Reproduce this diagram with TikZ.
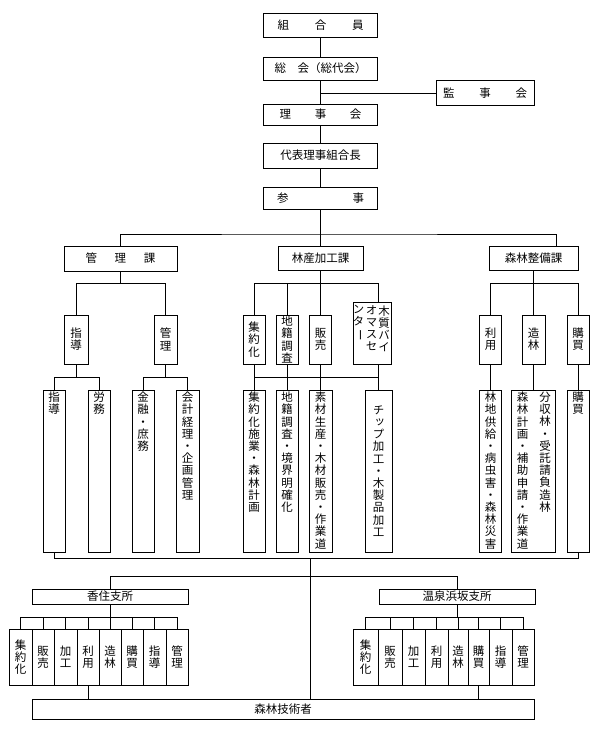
\documentclass[tikz,border=0pt]{standalone}
\usepackage{fontspec}
\usepackage{graphicx}
\newfontfamily\jp{Noto Sans CJK JP}
\newfontfamily\jpv[RawFeature=+vert]{Noto Sans CJK JP}
\newcommand\myhfont{\jp\fontsize{11.5}{12}\selectfont}
\newcommand\myvfont{\jpv\fontsize{11.5}{12.2}\selectfont}
\newcommand\vbar{{\jp\rotatebox[origin=c]{-90}{ー}}}
\ExplSyntaxOn
\tl_new:N \l_my_vt_tl
\seq_new:N \l_my_vt_seq
\NewDocumentCommand\vtext{m}
 {
  \tl_set:Nx \l_my_vt_tl {#1}
  \seq_clear:N \l_my_vt_seq
  \tl_map_inline:Nn \l_my_vt_tl { \seq_put_right:Nn \l_my_vt_seq {##1} }
  \seq_use:Nn \l_my_vt_seq {\\}
 }
\ExplSyntaxOff
\tikzset{
  sz/.style 2 args={minimum width=#1pt, minimum height=#2pt},
  hb/.style={draw, rectangle, inner sep=0pt, font=\myhfont},
  vb/.style={draw, rectangle, inner sep=0pt, align=center, font=\myvfont},
  vl/.style={inner sep=0pt, align=center, font=\myvfont, anchor=north},
}
\begin{document}
\begin{tikzpicture}[x=1pt,y=-1pt,line width=0.8pt]
\useasboundingbox (0,0) rectangle (600,739);
% ---- top chain
\node[hb, sz={114}{24}] (kumiai) at (320.5,25) {\makebox[86pt][s]{組\hfill 合\hfill 員}};
\node[hb, sz={114}{23}] (soukai) at (320.5,68.5) {総　会（総代会）};
\node[hb, sz={98}{25}] (kanji) at (485,93) {\makebox[84pt][s]{監\hfill 事\hfill 会}};
\node[hb, sz={114}{21}] (riji) at (320.5,114.5) {\makebox[82pt][s]{理\hfill 事\hfill 会}};
\node[hb, sz={114}{25}] (daihyo) at (320.5,155.5) {代表理事組合長};
\node[hb, sz={114}{22}] (sanji) at (320.5,198) {\makebox[87pt][s]{参\hfill 事}};
\draw (kumiai.south) -- (soukai.north);
\draw (soukai.south) -- (riji.north);
\draw (kanji.west -| soukai.south) -- (kanji.west);
\draw (riji.south) -- (daihyo.north);
\draw (daihyo.south) -- (sanji.north);
% ---- sections
\node[hb, sz={113}{25}] (kanrika) at (120.5,258.5) {\makebox[70pt][s]{管\hfill 理\hfill 課}};
\node[hb, sz={85}{24}] (rinsanka) at (320.5,258) {林産加工課};
\node[hb, sz={89}{24}] (shinrinka) at (533.5,258) {森林整備課};
\coordinate (bus1) at (320.5,234);
\coordinate (sh1) at (556,246);
\draw (sanji.south) -- (bus1);
\draw (kanrika.north) |- (bus1) -| (sh1);
\draw (rinsanka.north) -- (rinsanka.north |- bus1);
\coordinate (y2) at (0,283);
\coordinate (y3) at (0,377);
\coordinate (y4) at (0,558);
% ---- 管理課
\node[vb, sz={24}{49}] (shido) at (76,339.5) {\vtext{指導}};
\node[vb, sz={23}{49}] (kanri) at (165.5,339.5) {\vtext{管理}};
\draw (kanrika.south) -- (kanrika.south |- y2);
\draw (shido.north) |- (kanri.north |- y2) -- (kanri.north);
\node[draw, sz={22}{162}] (tshido) at (54,471) {};
\node[draw, sz={22}{162}] (troumu) at (99,471) {};
\node[draw, sz={22}{162}] (tkinyu) at (143,471) {};
\node[draw, sz={23}{162}] (tkaikei) at (187.5,471) {};
\node[vl] (tshidoL) at ([yshift=-2pt]tshido.north) {\vtext{指導}};
\node[vl] (troumuL) at ([yshift=-2pt]troumu.north) {\vtext{労務}};
\node[vl] (tkinyuL) at ([yshift=-2pt]tkinyu.north) {\vtext{金融・庶務}};
\node[vl] (tkaikeiL) at ([yshift=-2pt]tkaikei.north) {\vtext{会計経理・企画管理}};
\draw (shido.south) -- (shido.south |- y3);
\draw (tshido.north) |- (troumu.north |- y3) -- (troumu.north);
\draw (kanri.south) -- (kanri.south |- y3);
\draw (tkinyu.north) |- (tkaikei.north |- y3) -- (tkaikei.north);
% ---- 林産加工課
\node[vb, sz={22}{49}] (shuyaku) at (254,339.5) {\vtext{集約化}};
\node[vb, sz={22}{49}] (chiseki) at (287,339.5) {\vtext{地籍調査}};
\node[vb, sz={22}{49}] (hanbai) at (320.5,339.5) {\vtext{販売}};
\node[draw, sz={38}{62}] (mokushitsu) at (372,333) {};
\node[vl] (mk1) at (384,305) {\vtext{木質バイ}};
\node[vl] (mk2) at (371.5,305) {\vtext{オマスセ}};
\node[vl] (mk3) at (358.5,305) {ン\\タ\\\vbar};
\node[draw, sz={22}{162}] (tshuyaku) at (254,471) {};
\node[draw, sz={22}{162}] (tchiseki) at (287,471) {};
\node[draw, sz={23}{162}] (tsozai) at (320.5,471) {};
\node[vb, sz={27}{162}] (tchip) at (378.5,471) {\vtext{チップ加工・木製品加工}};
\node[vl] (tshuyakuL) at ([yshift=-2pt]tshuyaku.north) {\vtext{集約化施業・森林計画}};
\node[vl] (tchisekiL) at ([yshift=-2pt]tchiseki.north) {\vtext{地籍調査・境界明確化}};
\node[vl] (tsozaiL) at ([yshift=-2pt]tsozai.north) {\vtext{素材生産・木材販売・作業道}};
\coordinate (mkt) at (tchip.north |- mokushitsu.north);
\coordinate (mkb) at (tchip.north |- mokushitsu.south);
\draw (rinsanka.south) -- (rinsanka.south |- y2);
\draw (shuyaku.north) |- (mkt |- y2) -- (mkt);
\draw (chiseki.north) -- (chiseki.north |- y2);
\draw (hanbai.north) -- (hanbai.north |- y2);
\draw (shuyaku.south) -- (tshuyaku.north);
\draw (chiseki.south) -- (tchiseki.north);
\draw (hanbai.south) -- (tsozai.north);
\draw (mkb) -- (tchip.north);
\draw (shuyaku.south |- y3) -- (tchip.north |- y3);
% ---- 森林整備課
\node[vb, sz={22}{49}] (riyo) at (490.5,339.5) {\vtext{利用}};
\node[vb, sz={23}{49}] (zorin) at (533.5,339.5) {\vtext{造林}};
\node[vb, sz={22}{49}] (kobai) at (578,339.5) {\vtext{購買}};
\draw (shinrinka.south) -- (shinrinka.south |- y2);
\draw (riyo.north) |- (kobai.north |- y2) -- (kobai.north);
\draw (zorin.north) -- (zorin.north |- y2);
\node[draw, sz={22}{162}] (trinchi) at (490.5,471) {};
\node[draw, sz={44}{162}] (tzorin) at (533.5,471) {};
\node[draw, sz={22}{162}] (tkobai) at (578,471) {};
\node[vl] (trinchiL) at ([yshift=-2pt]trinchi.north) {\vtext{林地供給・病虫害・森林災害}};
\node[vl] (tzorinL1) at ([xshift=-11pt,yshift=-2pt]tzorin.north) {\vtext{森林計画・補助申請・作業道}};
\node[vl] (tzorinL2) at ([xshift=11.5pt,yshift=-2pt]tzorin.north) {\vtext{分収林・受託請負造林}};
\node[vl] (tkobaiL) at ([yshift=-2pt]tkobai.north) {\vtext{購買}};
\draw (riyo.south) -- (trinchi.north);
\draw (zorin.south) -- (tzorin.north);
\draw (kobai.south) -- (tkobai.north);
% ---- bottom bus
\draw (tshido.south) |- (tkobai.south |- y4) -- (tkobai.south);
\node[hb, sz={502}{20}] (gijutsu) at (283,709) {森林技術者};
\coordinate (c4) at (310,558);
\draw (c4) -- (c4 |- gijutsu.north);
\coordinate (y5) at (0,576);
\coordinate (y6) at (0,617);
\node[hb, sz={156}{15}] (kasumi) at (110,596.5) {香住支所};
\node[hb, sz={156}{15}] (onsen) at (457,596.5) {温泉浜坂支所};
\draw (kasumi.north) |- (onsen.north |- y5) -- (onsen.north);
\foreach \n/\x/\w/\t in {1/20.5/23/集約化, 2/43/22/販売, 3/65.5/23/加工, 4/88/22/利用, 5/110/22/造林, 6/132/22/購買, 7/154.5/23/指導, 8/177/22/管理}
  \node[vb, sz={\w}{56}] (k\n) at (\x,657) {\vtext{\t}};
\foreach \n/\x/\w/\t in {1/365.5/25/集約化, 2/390/24/販売, 3/413.5/23/加工, 4/436.5/23/利用, 5/458/20/造林, 6/478.5/21/購買, 7/500.5/23/指導, 8/523/22/管理}
  \node[vb, sz={\w}{56}] (o\n) at (\x,657) {\vtext{\t}};
\draw (kasumi.south) -- (kasumi.south |- y6);
\draw (k1.north) |- (k8.north |- y6) -- (k8.north);
\draw (onsen.south) -- (onsen.south |- y6);
\draw (o1.north) |- (o8.north |- y6) -- (o8.north);
\foreach \n in {2,...,7} {
  \draw (k\n.north) -- (k\n.north |- y6);
  \draw (o\n.north) -- (o\n.north |- y6);
}
\draw (k4.south) -- (k4.south |- gijutsu.north);
\draw (o6.south) -- (o6.south |- gijutsu.north);
\end{tikzpicture}
\end{document}
